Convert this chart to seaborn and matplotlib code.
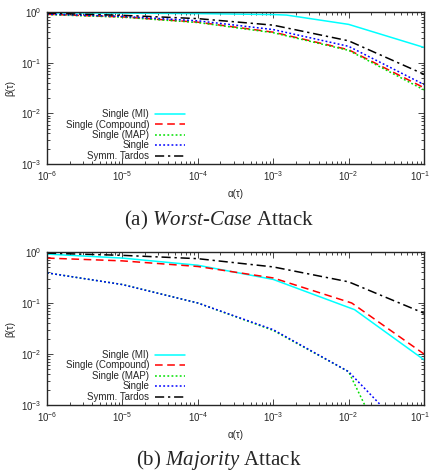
import numpy as np
import pandas as pd
import matplotlib
matplotlib.use("Agg")
import matplotlib.pyplot as plt
import matplotlib.transforms as mtransforms
import seaborn as sns
from matplotlib.ticker import LogLocator, NullFormatter

# ---------------- data ----------------
series_names = ["Single (MI)", "Single (Compound)", "Single (MAP)", "Single", "Symm. Tardos"]

# (a) Worst-Case attack
wc_alpha_mi = [1e-6, 1e-5, 1e-4, 1e-3, 1.5e-3, 1e-2, 1e-1]
wc_mi = [0.96, 0.95, 0.93, 0.89, 0.87, 0.57, 0.20]
wc_alpha = [1e-6, 1e-5, 1e-4, 1e-3, 1e-2, 1e-1]
wc_compound = [0.90, 0.80, 0.63, 0.40, 0.18, 0.032]
wc_map = [0.89, 0.79, 0.62, 0.39, 0.175, 0.029]
wc_single = [0.91, 0.82, 0.67, 0.45, 0.21, 0.037]
wc_tardos = [0.95, 0.86, 0.74, 0.55, 0.27, 0.059]

# (b) Majority attack
mj_alpha_mi = [1e-6, 1e-5, 1e-4, 1e-3, 1.2e-2, 1e-1]
mj_mi = [0.91, 0.76, 0.55, 0.29, 0.074, 0.0077]
mj_alpha_cmp = [1e-6, 1e-5, 1e-4, 1e-3, 1.1e-2, 1e-1]
mj_compound = [0.76, 0.67, 0.52, 0.31, 0.100, 0.0100]
mj_alpha = [1e-6, 1e-5, 1e-4, 1e-3, 1e-2, 1e-1]
mj_map = [0.39, 0.23, 0.10, 0.029, 0.0045, 4e-6]
mj_single = [0.39, 0.23, 0.10, 0.030, 0.0045, 1.3e-4]
mj_tardos = [0.95, 0.86, 0.74, 0.51, 0.26, 0.063]

captions = ["(a) $\\mathit{Worst}$-$\\mathit{Case}$ Attack", "(b) $\\mathit{Majority}$ Attack"]

colors = ["#00ffff", "#ff0000", "#00e000", "#0000ff", "#000000"]
styles = ["-", (0, (5, 3)), (0, (1.2, 1.5)), (0, (1.2, 1.5)), (0, (6, 2.5, 1.5, 2.5))]

# ---------------- style ----------------
sns.set_style("ticks")
plt.rcParams["font.family"] = ["Liberation Sans", "DejaVu Sans"]
plt.rcParams["mathtext.fontset"] = "custom"
plt.rcParams["mathtext.it"] = "Liberation Serif:italic"
plt.rcParams["mathtext.rm"] = "Liberation Sans"

W, H = 432, 473
fig = plt.figure(figsize=(W / 100, H / 100), dpi=100)

def axrect(l, t, r, b):
    return [l / W, 1 - b / H, (r - l) / W, (b - t) / H]

ax1 = fig.add_axes(axrect(47, 12, 424, 164))
ax2 = fig.add_axes(axrect(47, 252, 424, 405))

panels = [
    (ax1, [(wc_alpha_mi, wc_mi), (wc_alpha, wc_compound), (wc_alpha, wc_map), (wc_alpha, wc_single), (wc_alpha, wc_tardos)]),
    (ax2, [(mj_alpha_mi, mj_mi), (mj_alpha_cmp, mj_compound), (mj_alpha, mj_map), (mj_alpha, mj_single), (mj_alpha, mj_tardos)]),
]

for ax, data in panels:
    for name, (xs, ys), c, ls in zip(series_names, data, colors, styles):
        df = pd.DataFrame({"alpha": xs, "beta": ys})
        sns.lineplot(data=df, x="alpha", y="beta", ax=ax, color=c, linestyle=ls,
                     linewidth=1.1, label=name)
    ax.set_xscale("log")
    ax.set_yscale("log")
    ax.set_xlim(1e-6, 1e-1)
    ax.set_ylim(1e-3, 1e0)
    ax.set_xlabel("α(τ)", fontsize=7, labelpad=4)
    ax.set_ylabel("β(τ)", fontsize=7, labelpad=4)
    ax.xaxis.set_major_locator(LogLocator(base=10, numticks=20))
    ax.yaxis.set_major_locator(LogLocator(base=10, numticks=20))
    ax.xaxis.set_minor_locator(LogLocator(base=10, subs=np.arange(2, 10), numticks=20))
    ax.yaxis.set_minor_locator(LogLocator(base=10, subs=np.arange(2, 10), numticks=20))
    ax.xaxis.set_minor_formatter(NullFormatter())
    ax.yaxis.set_minor_formatter(NullFormatter())
    ax.tick_params(which="both", direction="in", top=True, right=True, labelsize=7,
                   width=0.6, pad=4)
    ax.tick_params(which="major", length=4)
    ax.tick_params(which="minor", length=2)
    for sp in ax.spines.values():
        sp.set_linewidth(1.0)
    leg = ax.legend(loc="lower right", bbox_to_anchor=((185 - 47) / 377, 0.02),
                    markerfirst=False, frameon=False, fontsize=7, handlelength=3.1,
                    handletextpad=0.6, labelspacing=0.05, borderaxespad=0.0,
                    borderpad=0.0)
    for line in leg.get_lines():
        line.set_linewidth(1.1)

fig.text(219 / W, 1 - 220 / H, captions[0], ha="center", va="center",
         family="Liberation Serif", fontsize=15)
fig.text(219 / W, 1 - 460 / H, captions[1], ha="center", va="center",
         family="Liberation Serif", fontsize=15)

# keep the right-most x tick label inside the canvas
fig.canvas.draw()
shift = mtransforms.ScaledTranslation(-4 / 100, 0, fig.dpi_scale_trans)
for ax in (ax1, ax2):
    for tick in ax.xaxis.get_major_ticks():
        if np.isclose(tick.get_loc(), 1e-1):
            tick.label1.set_transform(tick.label1.get_transform() + shift)

fig.savefig("out.png", dpi=100)
